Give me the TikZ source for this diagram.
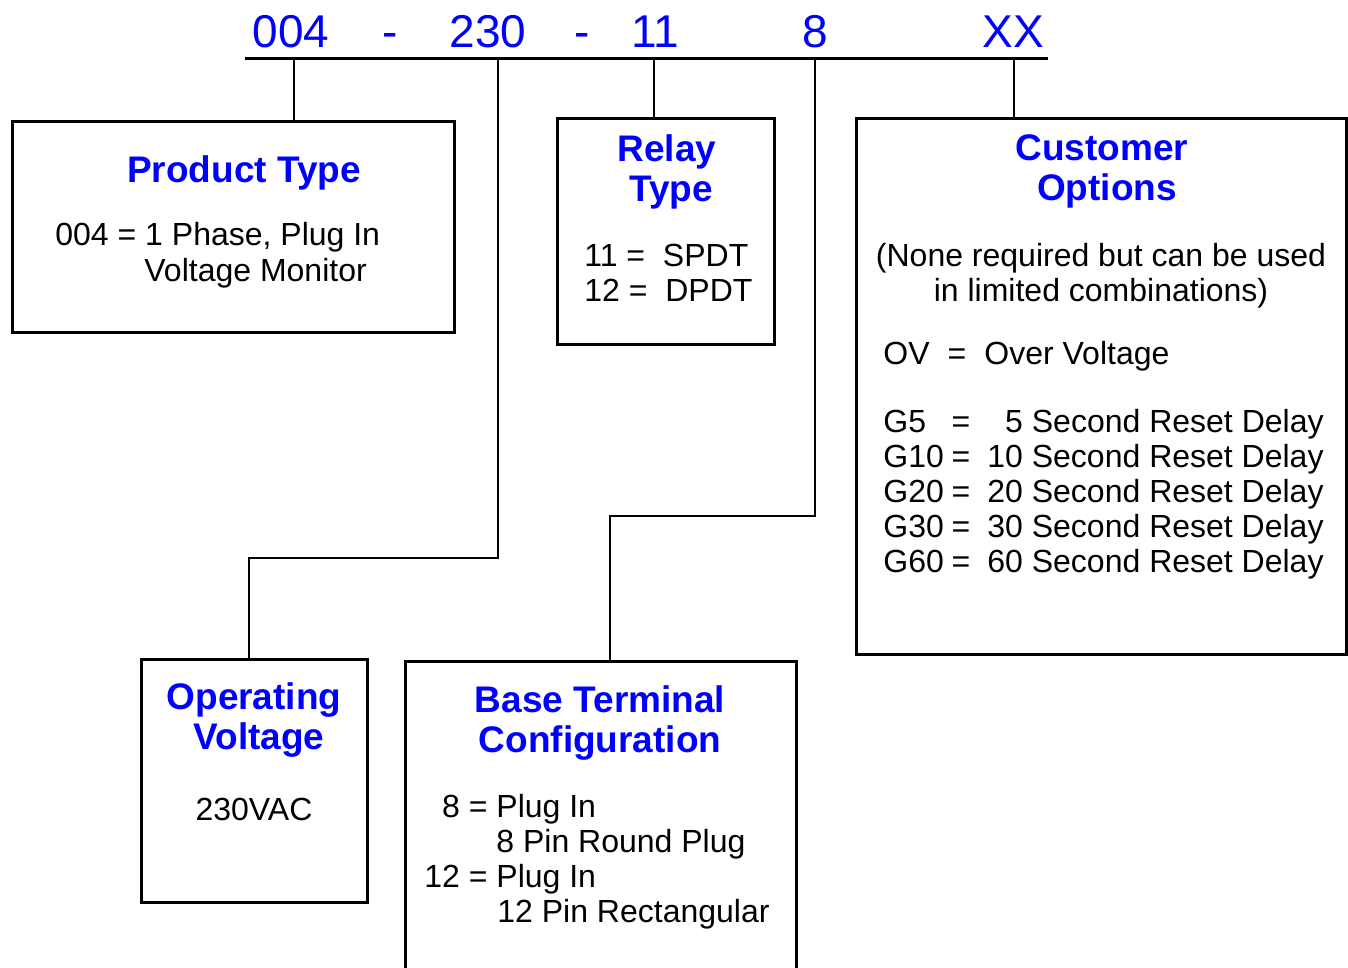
\documentclass[tikz,border=0pt]{standalone}
\usepackage{fontspec}
\setmainfont{Liberation Sans}
\usetikzlibrary{positioning, fit}

\newcommand{\bodyfont}{\fontsize{16}{17.5}\selectfont}
\newcommand{\headfont}{\fontsize{18.5}{20}\selectfont\bfseries}
\newcommand{\codefont}{\fontsize{23}{26}\selectfont}

\begin{document}
\begin{tikzpicture}[
    x=0.5pt, y=-0.5pt,
    box/.style={draw=black, line width=1.5pt, inner sep=0pt},
    head/.style={text=blue, font=\headfont, anchor=base, inner sep=0pt},
    body/.style={font=\bodyfont, anchor=base west, inner sep=0pt},
    code/.style={text=blue, font=\codefont, anchor=base, inner sep=0pt},
    wire/.style={line width=1pt}
  ]
  \clip (0,0) rectangle (1348,968);
  \fill[white] (0,0) rectangle (1348,968);

  % part number
  \node(c004)[code] at (291,48) {004};
  \node(dash1)[code] at (390,48) {-};
  \node(c230)[code] at (488,48) {230};
  \node(dash2)[code] at (582,48) {-};
  \node(c11)[code] at (655,48) {11};
  \node(c8)[code] at (815,48) {8};
  \node(cxx)[code] at (1013,48) {XX};
  \coordinate(lstart) at (245,59);
  \coordinate(lend) at (1048,59);
  \draw[line width=1.5pt] (lstart) -- (lend);

  % boxes
  \node(ptype)[box, fit={(12,122) (454,332)}] {};
  \node(rtype)[box, fit={(557,119) (774,344)}] {};
  \node(copt)[box, fit={(856,119) (1346,654)}] {};
  \node(opv)[box, fit={(141,659) (367,902)}] {};
  \node(base)[box, fit={(405,661) (796,990)}] {};

  % product type
  \node(ptitle)[head] at (244,183) {Product Type};
  \node(p1)[body] at (55,246) {004 = 1 Phase, Plug In};
  \node(p2)[body] at (144,281) {Voltage Monitor};

  % relay type
  \node(rtitle1)[head] at (667,162) {Relay};
  \node(rtitle2)[head] at (671,202) {Type};
  \node(r1)[body] at (584,266) {11 =\ \ SPDT};
  \node(r2)[body] at (584,301) {12 =\ \ DPDT};

  % customer options
  \node(ctitle1)[head] at (1102,161) {Customer};
  \node(ctitle2)[head] at (1107,201) {Options};
  \node(cnote1)[body, anchor=base] at (1101,266) {(None required but can be used};
  \node(cnote2)[body, anchor=base] at (1101,301) {in limited combinations)};
  \node(ov)[body] at (883,364) {OV};
  \node(oveq)[body, anchor=base] at (957,364) {=};
  \node(ovtext)[body] at (984,364) {Over Voltage};
  \foreach \g [count=\i] in {5, 10, 20, 30, 60} {
    \node(g\g)[body] at (883,397+35*\i) {G\g};
    \node(geq\g)[body, anchor=base] at (961,397+35*\i) {=};
    \node(gt\g)[body, anchor=base east] at (1324,397+35*\i) {\g\ Second Reset Delay};
  }

  % operating voltage
  \node(otitle1)[head] at (254,709) {Operating};
  \node(otitle2)[head] at (259,749) {Voltage};
  \node(o1)[body, anchor=base] at (254,820) {230VAC};

  % base terminal configuration
  \node(btitle1)[head] at (600,712) {Base Terminal};
  \node(btitle2)[head] at (600,752) {Configuration};
  \node(b1)[body, anchor=base east] at (488,817) {8 =};
  \node(b1t)[body] at (496,817) {Plug In};
  \node(b2)[body] at (496,852) {8 Pin Round Plug};
  \node(b3)[body, anchor=base east] at (488,887) {12 =};
  \node(b3t)[body] at (496,887) {Plug In};
  \node(b4)[body] at (497,922) {12 Pin Rectangular};

  % leaders
  \coordinate(t1) at (294,59);
  \coordinate(t2) at (498,59);
  \coordinate(t3) at (654,59);
  \coordinate(t4) at (815,59);
  \coordinate(t5) at (1014,59);
  \coordinate(k2) at (249,558);
  \coordinate(k4) at (610,516);
  \draw[wire] (t1) -- (t1 |- ptype.north);
  \draw[wire] (t2) |- (k2) -- (k2 |- opv.north);
  \draw[wire] (t3) -- (t3 |- rtype.north);
  \draw[wire] (t4) |- (k4) -- (k4 |- base.north);
  \draw[wire] (t5) -- (t5 |- copt.north);
\end{tikzpicture}
\end{document}
